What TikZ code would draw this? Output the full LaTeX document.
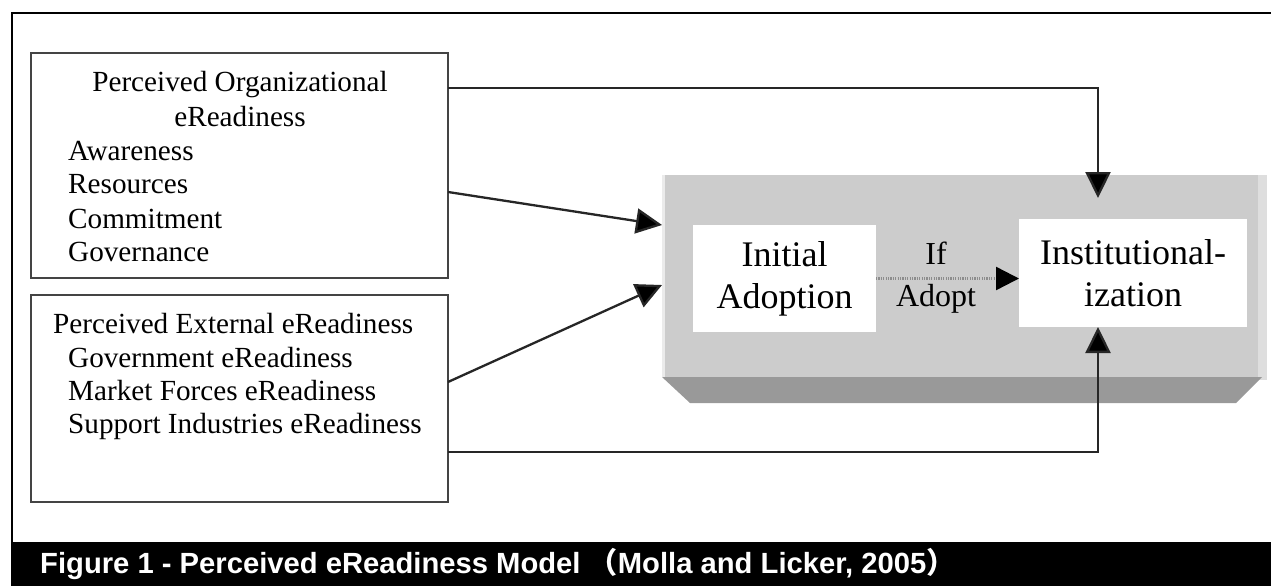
\documentclass[tikz,border=0pt]{standalone}
\usepackage{fontspec}
\setmainfont{Liberation Serif}
\newfontfamily\capfont{Liberation Sans}
\newfontfamily\cjkfont{Noto Sans CJK SC}
\usetikzlibrary{arrows.meta}

\definecolor{panel}{HTML}{CCCCCC}
\definecolor{panelshade}{HTML}{999999}
\definecolor{panellight}{HTML}{DEDEDE}
\definecolor{boxline}{HTML}{444444}

\begin{document}
\begin{tikzpicture}[x=1pt,y=-1pt,
  factorbox/.style={draw=boxline,line width=1.5pt,fill=white,inner sep=0pt,outer sep=0pt},
  stagebox/.style={fill=white,inner sep=0pt,outer sep=0pt,align=center,
    font=\fontsize{36}{42}\selectfont},
  line/.style={inner sep=0pt,anchor=base west,font=\fontsize{29.2}{34}\selectfont},
  headline/.style={inner sep=0pt,anchor=base,font=\fontsize{29.2}{34}\selectfont},
  conn/.style={draw=black!85,line width=2.3pt,-{Triangle[length=26pt 0,width=25pt 0,fill=black]}},
  dottedconn/.style={draw=black!45,line width=2.4pt,dash pattern=on 1.2pt off 1.2pt,
    -{Triangle[length=23pt 0,width=23pt 0,fill=black,color=black]}}
]
\useasboundingbox (0,0) rectangle (1271,586);
\fill[white] (0,0) rectangle (1271,586);

% outer frame
\draw[line width=2.8pt] (1271,13) -- (12,13) -- (12,542);

% caption bar
\fill[black] (11,542) rectangle (1271,586);
\node[inner sep=0pt,anchor=base west,text=white,font=\capfont\bfseries\fontsize{29.2}{30}\selectfont]
  (caption) at (40,573) {Figure 1 - Perceived eReadiness Model {\cjkfont （}Molla and Licker, 2005{\cjkfont ）}};

% factor boxes
\node[factorbox,minimum width=417pt,minimum height=225pt] (org) at (239.5,165.5) {};
\node[factorbox,minimum width=417pt,minimum height=207pt] (ext) at (239.5,398.5) {};

\node[headline] (orgA) at (240,92) {Perceived Organizational};
\node[headline] (orgB) at (240,126) {eReadiness};
\node[line] (org1) at (68,160) {Awareness};
\node[line] (org2) at (68,193) {Resources};
\node[line] (org3) at (68,228) {Commitment};
\node[line] (org4) at (68,261) {Governance};

\node[line] (extA) at (53,333) {Perceived External eReadiness};
\node[line] (ext1) at (68,367) {Government eReadiness};
\node[line] (ext2) at (68,400) {Market Forces eReadiness};
\node[line] (ext3) at (68,433) {Support Industries eReadiness};

% grey adoption panel with its bevelled lower edge
\node[fill=panel,inner sep=0pt,outer sep=0pt,minimum width=605pt,minimum height=202pt] (core) at (964.5,276) {};
\fill[panellight] (1258,175) rectangle (1267,380);
\fill[panellight!60!white] (662,175) rectangle (665,377);
\fill[panelshade] (662,377) -- (1262,377) -- (1236,403) -- (690,403) -- cycle;

% stages
\node[stagebox,minimum width=183pt,minimum height=107pt] (init) at (784.5,278.5) {Initial\\Adoption};
\node[stagebox,minimum width=228pt,minimum height=108pt] (inst) at (1133,273) {Institutional-\\ization};

\node[inner sep=0pt,align=center,font=\fontsize{32}{42}\selectfont] (ifadopt) at (936,278) {If\\Adopt};

% connectors
\draw[conn] ([yshift=77.5pt]org.east) -| ([xshift=-35pt,yshift=21pt]inst.north);
\draw[conn] ([yshift=-26.5pt]org.east) -- ([yshift=51pt]core.west);
\draw[conn] ([yshift=16.5pt]ext.east) -- ([yshift=-9pt]core.west);
\draw[conn] ([yshift=-53.5pt]ext.east) -| ([xshift=-35pt]inst.south);
\draw[dottedconn] (init.east) -- (inst.west |- init.east);
\end{tikzpicture}
\end{document}
